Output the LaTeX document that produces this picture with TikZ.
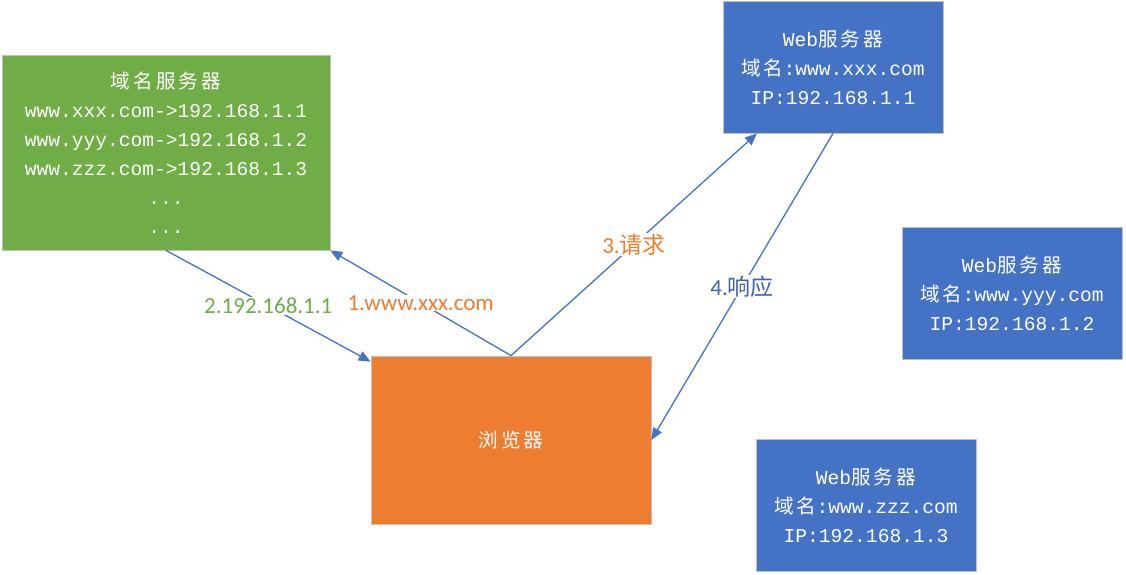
\documentclass[tikz,border=0pt]{standalone}
\usepackage{fontspec}
\setmainfont{Carlito}
\newfontfamily\cjk{Noto Sans CJK SC}
\newfontfamily\boxcjk[LetterSpace=16]{Noto Sans CJK SC}
\newfontfamily\mono{Liberation Mono}
\usetikzlibrary{positioning,arrows.meta}
\definecolor{dnsgreen}{HTML}{70AD47}
\definecolor{browserorange}{HTML}{ED7D31}
\definecolor{serverblue}{HTML}{4472C4}
\definecolor{respblue}{HTML}{3F62B4}
\definecolor{edgegray}{HTML}{C0C0C0}

\begin{document}
\begin{tikzpicture}[x=1pt,y=-1pt]
	\tikzset{>={Triangle[length=12pt,width=10pt]}}
	\tikzset{box/.style={draw=edgegray,line width=0.8pt,text=white,align=center,
			font=\mono\fontsize{19.6}{29}\selectfont},
		webbox/.style={box,fill=serverblue,minimum width=220pt,minimum height=132pt},
		link/.style={->,draw=serverblue,line width=1.3pt},
		step label/.style={fill=white,inner sep=1pt,font=\fontsize{23}{27}\selectfont}}
	
	\useasboundingbox (0,0) rectangle (1126,574);
	
	% DNS server and browser
	\node[box,fill=dnsgreen,minimum width=328pt,minimum height=195pt] (dns) at (166,152.5)
		{{\boxcjk 域名服务器}\\www.xxx.com->192.168.1.1\\www.yyy.com->192.168.1.2\\www.zzz.com->192.168.1.3\\...\\...};
	\node[box,fill=browserorange,minimum width=280pt,minimum height=168pt] (browser) at (511,440)
		{\boxcjk 浏览器};
	
	% web servers
	\node[webbox] (web1) at (833,67) {Web{\boxcjk 服务器}\\{\boxcjk 域名}:www.xxx.com\\IP:192.168.1.1};
	\node[webbox] (web2) at (1012,293) {Web{\boxcjk 服务器}\\{\boxcjk 域名}:www.yyy.com\\IP:192.168.1.2};
	\node[webbox] (web3) at (866,505) {Web{\boxcjk 服务器}\\{\boxcjk 域名}:www.zzz.com\\IP:192.168.1.3};
	
	% requests and answers
	\draw[link] (browser.north) -- node[step label,text=browserorange] (q1) {1.www.xxx.com} (dns.south east);
	\draw[link] (dns.south) -- node[step label,text=dnsgreen] (a1) {2.192.168.1.1} ([yshift=-6pt]browser.north west);
	\draw[link] (browser.north) -- node[step label,text=browserorange] (q2) {3.{\cjk 请求}} ([xshift=-76pt]web1.south);
	\draw[link] (web1.south) -- node[step label,text=respblue] (a2) {4.{\cjk 响应}} (browser.east);
	
\end{tikzpicture}
\end{document}
